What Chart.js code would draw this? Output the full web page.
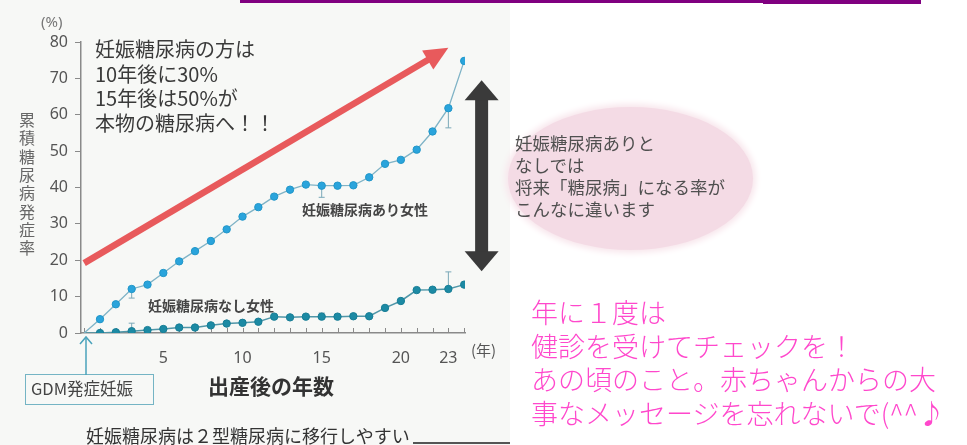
<!DOCTYPE html>
<html>
<head>
<meta charset="utf-8">
<script src="https://cdn.jsdelivr.net/npm/chart.js@4/dist/chart.umd.min.js"></script>
<style>
html,body{margin:0;padding:0;width:967px;height:445px;overflow:hidden;background:#ffffff;}
#stage{position:relative;width:967px;height:445px;}
.abs{position:absolute;white-space:nowrap;}
.jp{font-family:"Noto Sans CJK JP","Noto Sans",sans-serif;}
</style>
</head>
<body>
<div id="stage">
  <div class="abs" style="left:0;top:0;width:510px;height:445px;background:#f7f8f6;"></div>
  <div class="abs" style="left:240px;top:0;width:523px;height:3px;background:#800080;"></div>
  <div class="abs" style="left:763px;top:0;width:158px;height:4px;background:#800080;"></div>
  <div class="abs" style="left:508px;top:107px;width:245px;height:143px;border-radius:50%;background:#f4dbe5;box-shadow:0 0 6px 3px #f8e6ec;"></div>
  <div class="abs" style="left:413px;top:442px;width:97px;height:2px;background:#555;"></div>

  <canvas id="c" width="967" height="445" style="position:absolute;left:0;top:0;"></canvas>

  <div class="abs" style="left:41px;top:11px;font:15px 'Noto Sans',sans-serif;color:#777;">(%)</div>
  <div class="abs jp" style="left:18px;top:112px;font-size:16px;line-height:18px;color:#666;writing-mode:vertical-rl;letter-spacing:2.3px;">累積糖尿病発症率</div>
  <div class="abs jp" style="left:95px;top:37px;font-size:20px;line-height:24.5px;color:#3a3a3a;">妊娠糖尿病の方は<br>10年後に30%<br>15年後は50%が<br>本物の糖尿病へ！！</div>
  <div class="abs jp" style="left:302px;top:200px;font-size:14px;line-height:18px;font-weight:bold;color:#454545;">妊娠糖尿病あり女性</div>
  <div class="abs jp" style="left:148px;top:296px;font-size:14px;line-height:18px;font-weight:bold;color:#454545;">妊娠糖尿病なし女性</div>
  <div class="abs jp" style="left:471px;top:340px;font-size:15px;line-height:20px;color:#555;">(年)</div>
  <div class="abs jp" style="left:208px;top:372px;font-size:21px;line-height:26px;font-weight:bold;color:#333;">出産後の年数</div>
  <div class="abs" style="left:25px;top:374px;width:127px;height:29px;border:1.5px solid #74b4c4;"></div>
  <div class="abs jp" style="left:31px;top:377px;font-size:16.5px;line-height:22px;color:#444;">GDM発症妊娠</div>
  <svg class="abs" style="left:76px;top:334px;" width="20" height="42">
    <line x1="10" y1="3" x2="10" y2="41" stroke="#4aa3bb" stroke-width="1.5"/>
    <polyline points="4,10 10,3 16,10" fill="none" stroke="#4aa3bb" stroke-width="1.5"/>
  </svg>
  <div class="abs jp" style="left:86px;top:424px;font-size:18px;line-height:22px;color:#333;">妊娠糖尿病は２型糖尿病に移行しやすい</div>
  <div class="abs jp" style="left:515px;top:132px;font-size:17.5px;line-height:22px;color:#505050;">妊娠糖尿病ありと<br>なしでは<br>将来「糖尿病」になる率が<br>こんなに違います</div>
  <div class="abs jp" style="left:531px;top:295px;font-size:27px;line-height:33.5px;font-weight:300;color:#ff48cc;">年に１度は<br>健診を受けてチェックを！<br>あの頃のこと。赤ちゃんからの大<br>事なメッセージを忘れないで(^^♪</div>
</div>

<script>
// ---- data ----
const years = [0,1,2,3,4,5,6,7,8,9,10,11,12,13,14,15,16,17,18,19,20,21,22,23,24];
const gdmRate = [0,3.8,7.9,12.1,13.3,16.5,19.7,22.5,25.3,28.5,32.0,34.6,37.5,39.4,40.8,40.5,40.5,40.6,42.8,46.5,47.6,50.4,55.4,61.8,74.8];
const nonGdmRate = [0,0,0.2,0.5,0.8,1.1,1.5,1.5,2.1,2.6,2.8,3.1,4.5,4.3,4.5,4.5,4.5,4.6,4.6,6.9,8.8,11.8,11.9,12.1,13.3];
const xTickLabels = [5,10,15,20,23];
const yTickValues = [0,10,20,30,40,50,60,70,80];
const gdmErrYears = [3,15,23];
const gdmErrLow = [9.6,37.3,56.4];
const nonGdmErrYears = [3,15,23];
const nonGdmErrHigh = [2.7,5.5,16.8];
const redArrowFrom = [0,19.2];
const redArrowTo = [23.0,78.4];
const diffArrowX = 25.1;
const diffArrowY = [69.5,17.0];

const decor = {
  id:'decor',
  beforeDatasetsDraw(chart){
    const {ctx, scales:{x,y}} = chart;
    const x0=x.getPixelForValue(redArrowFrom[0]), y0=y.getPixelForValue(redArrowFrom[1]);
    const x1=x.getPixelForValue(redArrowTo[0]), y1=y.getPixelForValue(redArrowTo[1]);
    const ang=Math.atan2(y1-y0,x1-x0), hl=24, hw=11;
    const bx=x1-hl*Math.cos(ang), by=y1-hl*Math.sin(ang);
    ctx.save();
    ctx.strokeStyle='#e85a5c'; ctx.fillStyle='#e85a5c'; ctx.lineWidth=6.5; ctx.lineCap='butt';
    ctx.beginPath(); ctx.moveTo(x0,y0); ctx.lineTo(bx+2*Math.cos(ang),by+2*Math.sin(ang)); ctx.stroke();
    ctx.beginPath(); ctx.moveTo(x1,y1);
    ctx.lineTo(bx-hw*Math.sin(ang), by+hw*Math.cos(ang));
    ctx.lineTo(bx+hw*Math.sin(ang), by-hw*Math.cos(ang));
    ctx.closePath(); ctx.fill();
    ctx.strokeStyle='#8a8a8a'; ctx.lineWidth=1;
    const yb=y.getPixelForValue(0);
    years.forEach(v=>{const px=Math.round(x.getPixelForValue(v))+0.5; ctx.beginPath(); ctx.moveTo(px,yb); ctx.lineTo(px,yb-5); ctx.stroke();});
    ctx.strokeStyle='#7aa8b8'; ctx.lineWidth=1;
    const bar=(yr,a,b)=>{const px=x.getPixelForValue(yr), pa=y.getPixelForValue(a), pb=y.getPixelForValue(b);
      ctx.beginPath(); ctx.moveTo(px,pa); ctx.lineTo(px,pb); ctx.moveTo(px-3,pb); ctx.lineTo(px+3,pb); ctx.stroke();};
    gdmErrYears.forEach((yr,i)=>bar(yr,gdmRate[yr],gdmErrLow[i]));
    nonGdmErrYears.forEach((yr,i)=>bar(yr,nonGdmRate[yr],nonGdmErrHigh[i]));
    ctx.restore();
  },
  afterDraw(chart){
    const {ctx, scales:{x,y}} = chart;
    const px=x.getPixelForValue(diffArrowX);
    const top=y.getPixelForValue(diffArrowY[0]), bot=y.getPixelForValue(diffArrowY[1]);
    const hh=20, hw=17, sw=6.5;
    ctx.save(); ctx.fillStyle='#3a3a3a';
    ctx.fillRect(px-sw, top+hh-1, sw*2, (bot-top)-2*hh+2);
    ctx.beginPath(); ctx.moveTo(px,top); ctx.lineTo(px+hw,top+hh); ctx.lineTo(px-hw,top+hh); ctx.closePath(); ctx.fill();
    ctx.beginPath(); ctx.moveTo(px,bot); ctx.lineTo(px+hw,bot-hh); ctx.lineTo(px-hw,bot-hh); ctx.closePath(); ctx.fill();
    ctx.restore();
  }
};

new Chart(document.getElementById('c'), {
  type:'line',
  data:{
    datasets:[
      {label:'妊娠糖尿病あり女性', data:years.map((v,i)=>({x:v,y:gdmRate[i]})),
       borderColor:'#7fb3c6', borderWidth:1.3, tension:0,
       pointRadius:c=>c.dataIndex===0?0:3.7, pointBackgroundColor:'#2aa4dc', pointBorderColor:'#2196c8', pointBorderWidth:1},
      {label:'妊娠糖尿病なし女性', data:years.map((v,i)=>({x:v,y:nonGdmRate[i]})),
       borderColor:'#4f96a8', borderWidth:1.5, tension:0,
       pointRadius:c=>c.dataIndex===0?0:3.7, pointBackgroundColor:'#1c8aa4', pointBorderColor:'#177d95', pointBorderWidth:1}
    ]
  },
  options:{
    responsive:false, animation:false, devicePixelRatio:1,
    layout:{padding:{left:41,right:502,top:42,bottom:82}},
    plugins:{legend:{display:false}, tooltip:{enabled:false}},
    scales:{
      x:{type:'linear', min:-0.2, max:24.05,
        afterBuildTicks:s=>{s.ticks=years.map(v=>({value:v}));},
        ticks:{autoSkip:false, maxRotation:0, padding:8, color:'#555', font:{size:16, family:'Noto Sans'},
               callback:v=>xTickLabels.includes(v)?String(v):''},
        grid:{display:false},
        border:{display:true, color:'#8a8a8a', width:1.5},
        afterFit:s=>{s.height=30;}
      },
      y:{min:0, max:80,
        afterBuildTicks:s=>{s.ticks=yTickValues.map(v=>({value:v}));},
        ticks:{padding:7, color:'#555', font:{size:16, family:'Noto Sans'}},
        grid:{display:true, drawOnChartArea:false, drawTicks:true, tickLength:6, color:'#8a8a8a', lineWidth:1},
        border:{display:true, color:'#8a8a8a', width:1.5},
        afterFit:s=>{s.width=40;}
      }
    }
  },
  plugins:[decor]
});
</script>
</body>
</html>
